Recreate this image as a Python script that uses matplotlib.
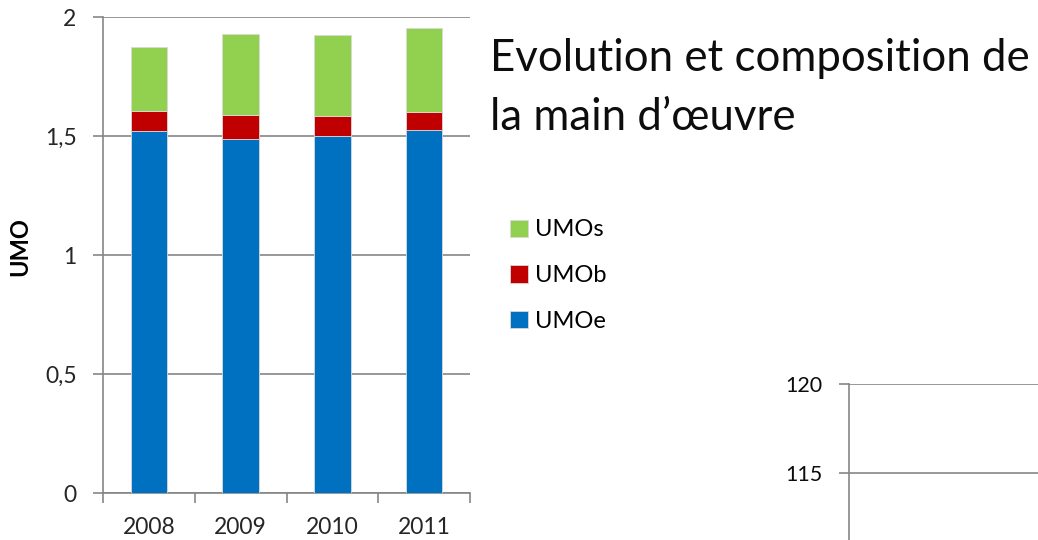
import matplotlib
matplotlib.use("Agg")
import matplotlib.pyplot as plt
from matplotlib.ticker import FuncFormatter, MultipleLocator
import numpy as np

years = ["2008", "2009", "2010", "2011"]
umo_e = [1.520, 1.487, 1.499, 1.525]
umo_b = [0.085, 0.102, 0.085, 0.075]
umo_s = [0.268, 0.338, 0.339, 0.352]

second_ticks = [115, 120]

plt.rcParams["font.family"] = ["Lato", "DejaVu Sans"]
grey = "#868686"

fig = plt.figure(figsize=(10.38, 5.4), dpi=100)

# main stacked chart
ax = fig.add_axes([103 / 1038, 1 - 493 / 540, 367 / 1038, 476 / 540])
x = np.arange(len(years))
w = 0.4
b1 = np.array(umo_e)
b2 = b1 + np.array(umo_b)
ax.bar(x, umo_e, w, color="#0070C0", edgecolor="#D9D9D9", linewidth=0.6, label="UMOe", zorder=3)
ax.bar(x, umo_b, w, bottom=b1, color="#C00000", edgecolor="#D9D9D9", linewidth=0.6, label="UMOb", zorder=3)
ax.bar(x, umo_s, w, bottom=b2, color="#92D050", edgecolor="#D9D9D9", linewidth=0.6, label="UMOs", zorder=3)

ax.set_xlim(-0.5, 3.5)
ax.set_ylim(0, 2)
ax.yaxis.set_major_locator(MultipleLocator(0.5))
ax.yaxis.set_major_formatter(FuncFormatter(lambda v, p: f"{v:g}".replace(".", ",")))
ax.grid(axis="y", color=grey, linewidth=1.2, zorder=0)
ax.set_xticks(x)
ax.set_xticklabels(years)
ax.set_xticks(np.arange(-0.5, 4, 1), minor=True)
ax.tick_params(axis="x", which="major", length=0, pad=17, labelsize=16.5, colors="#262626")
ax.tick_params(axis="x", which="minor", length=7, color=grey, width=1.2)
ax.tick_params(axis="y", length=7, color=grey, width=1.2, pad=12, labelsize=16.5, labelcolor="#262626")
for s in ["top", "right"]:
    ax.spines[s].set_visible(False)
for s in ["left", "bottom"]:
    ax.spines[s].set_color(grey)
    ax.spines[s].set_linewidth(1.2)
ax.set_ylabel("UMO", fontsize=17, fontweight="bold", va="center")
ax.yaxis.set_label_coords(-0.227, 0.517)

handles, labels = ax.get_legend_handles_labels()
fig.legend(handles[::-1], labels[::-1], loc="upper left", bbox_to_anchor=(501 / 1038, 1 - 210 / 540),
           frameon=False, fontsize=17, handlelength=0.75, handleheight=0.75, handletextpad=0.3,
           labelspacing=1.05, borderaxespad=0)

fig.text(490 / 1038, 1 - 88 / 540, "Evolution et composition de\nla main d\u2019\u0153uvre",
         fontsize=31.5, va="center", ha="left", linespacing=1.55, color="#0d0d0d")

# second (cropped) chart
ax2 = fig.add_axes([849 / 1038, 1 - 384 / 540 - 356 / 540, 0.3, 356 / 540])
ax2.set_ylim(100, 120)
ax2.set_xlim(0, 1)
ax2.set_yticks(second_ticks)
ax2.set_xticks([])
ax2.grid(axis="y", color=grey, linewidth=1.2)
for s in ["top", "right", "bottom"]:
    ax2.spines[s].set_visible(False)
ax2.spines["left"].set_color(grey)
ax2.spines["left"].set_linewidth(1.2)
ax2.tick_params(axis="y", length=7, color=grey, width=1.2, pad=12, labelsize=15.5, labelcolor="#0d0d0d")

fig.savefig("out.png", dpi=100)
